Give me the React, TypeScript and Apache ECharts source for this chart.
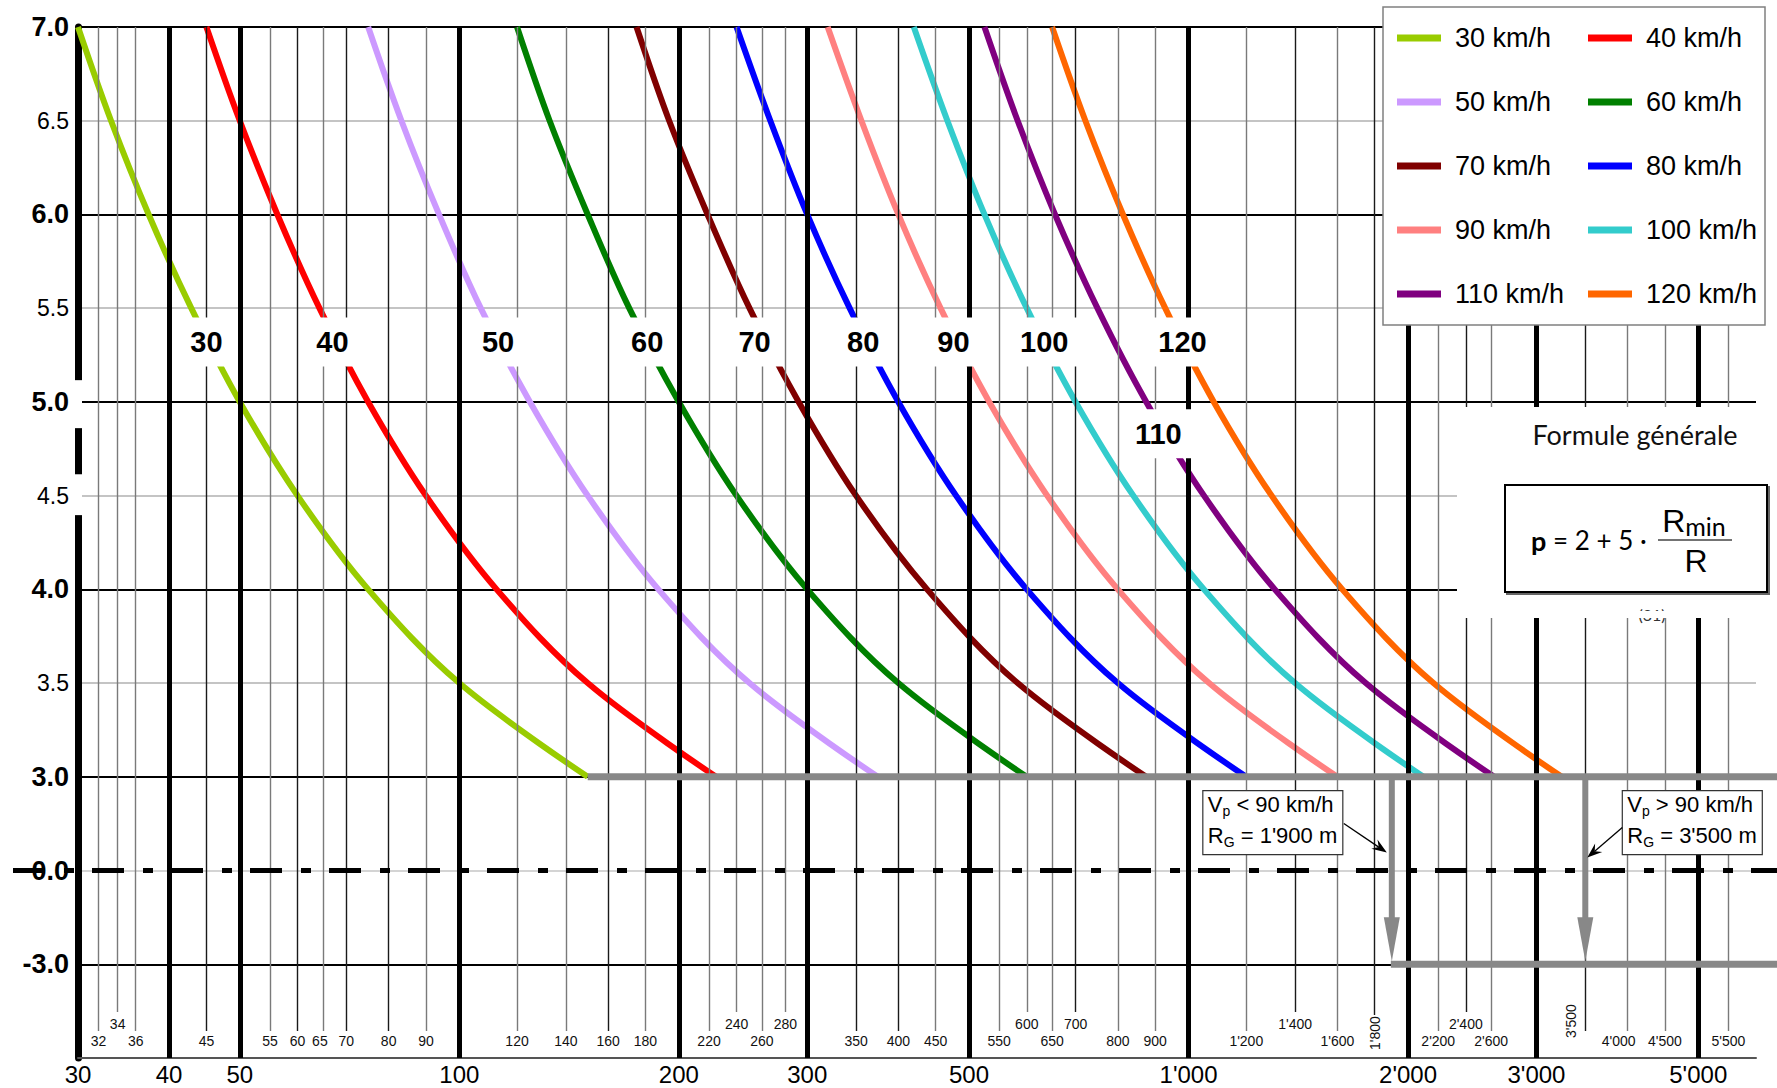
import React, { useEffect, useRef } from "react";
import * as echarts from "echarts";

const FONT = "'Liberation Sans', Arial, sans-serif";
const CAL = "Lato, 'Open Sans', sans-serif";
const GREY = "#888888";

// ---- series (design speeds) ----
const speeds = ["30 km/h", "40 km/h", "50 km/h", "60 km/h", "70 km/h", "80 km/h", "90 km/h", "100 km/h", "110 km/h", "120 km/h"];
const speedColors = ["#99cc00", "#ff0000", "#cc99ff", "#008000", "#800000", "#0000ff", "#ff8080", "#33cccc", "#800080", "#ff6600"];
const legendLeftCol = ["30 km/h", "50 km/h", "70 km/h", "90 km/h", "110 km/h"];
const legendRightCol = ["40 km/h", "60 km/h", "80 km/h", "100 km/h", "120 km/h"];

const pLevels = [7, 6.5, 6, 5.5, 5, 4.5, 4, 3.5, 3];
// radius R [m] read at those levels
const r30 = [30, 33.3, 37.5, 42.9, 50, 60, 75, 100, 150];
const r40 = [45, 50, 56.3, 64.3, 75, 90, 112.5, 150, 225];
const r50 = [75, 83.3, 93.8, 107, 125, 150, 187.5, 250, 375];
const r60 = [120, 133, 150, 171, 200, 240, 300, 400, 600];
const r70 = [175, 194, 219, 250, 292, 350, 438, 583, 875];
const r80 = [240, 267, 300, 343, 400, 480, 600, 800, 1200];
const r90 = [320, 356, 400, 457, 533, 640, 800, 1067, 1600];
const r100 = [420, 467, 525, 600, 700, 840, 1050, 1400, 2100];
const r110 = [525, 583, 656, 750, 875, 1050, 1313, 1750, 2625];
const r120 = [650, 722, 813, 929, 1083, 1300, 1625, 2167, 3250];
const curveRadii = [r30, r40, r50, r60, r70, r80, r90, r100, r110, r120];

// labels sitting on the curves
const curveLabelText = ["30", "40", "50", "60", "70", "80", "90", "100", "110", "120"];
const curveLabelR = [45, 67, 113, 181, 254, 358, 476, 634, 909, 981];
const curveLabelP = [5.32, 5.32, 5.32, 5.32, 5.32, 5.32, 5.32, 5.32, 4.83, 5.32];

// x axis (radius, log)
const xMin = 30;
const xMax = 6000;
const majorR = [30, 40, 50, 100, 200, 300, 500, 1000, 2000, 3000, 5000];
const minorLowR = [32, 36, 45, 55, 60, 65, 70, 80, 90, 120, 140, 160, 180, 220, 260, 350, 400, 450, 550, 650, 800, 900, 1200, 1600, 2200, 2600, 4000, 4500, 5500];
const minorHighR = [34, 240, 280, 600, 700, 1400, 2400];
const minorRotR = [1800, 3500];
const darkMinorR = [45, 60, 70, 80, 160, 350, 400, 700, 1400, 1800, 2400, 3500];

// y axis (piecewise: 3..7 linear, below 3 compressed)
const yAxisMin = 1.5;
const yAxisMax = 7;
const yTickText: Record<string, string> = {
  "7": "7.0", "6.5": "6.5", "6": "6.0", "5.5": "5.5", "5": "5.0", "4.5": "4.5",
  "4": "4.0", "3.5": "3.5", "3": "3.0", "2.5": "0.0", "2": "-3.0",
};
const yBoldTicks = ["7", "6", "5", "4", "3", "2.5", "2"];
const yZero = 2.5; // "0.0"
const yMinus3 = 2.0; // "-3.0"
const yMinorLabelLow = 1.591;
const yMinorLabelHigh = 1.681;
const yLineEndLow = 1.644;
const yLineEndHigh = 1.745;

// limit radii
const rGreyStart = 150;
const rG1 = 1900;
const rG2 = 3500;

const fmt = (r: number) => (r >= 1000 ? `${Math.floor(r / 1000)}'${String(r % 1000).padStart(3, "0")}` : String(r));

function buildOption() {
  const vLines: any[] = [];
  majorR.slice(1).forEach((r) =>
    vLines.push([{ coord: [r, yAxisMax], lineStyle: { color: "#000", width: 5, type: "solid" } }, { coord: [r, yAxisMin] }])
  );
  const thin = (r: number, end: number) => [
    { coord: [r, yAxisMax], lineStyle: { color: darkMinorR.includes(r) ? "#1a1a1a" : "#7a7a7a", width: 1.4, type: "solid" } },
    { coord: [r, end] },
  ];
  minorLowR.forEach((r) => vLines.push(thin(r, yLineEndLow)));
  minorHighR.forEach((r) => vLines.push(thin(r, yLineEndHigh)));
  vLines.push(thin(1800, 1.73));
  vLines.push(thin(3500, yLineEndLow));

  const curveSeries = speeds.map((name, i) => ({
    type: "line",
    name,
    data: curveRadii[i].map((r, j) => [r, pLevels[j]]),
    smooth: 0.35,
    showSymbol: false,
    symbol: "none",
    silent: true,
    color: speedColors[i],
    itemStyle: { color: speedColors[i] },
    lineStyle: { color: speedColors[i], width: 6 },
    z: 3,
  }));

  const splitColors = ["#555", "#000", "#d4d4d4", "#000", "#c4c4c4", "#000", "#c4c4c4", "#000", "#c4c4c4", "#000", "#c4c4c4", "#000"];

  const legendCommon = {
    orient: "vertical",
    top: 23,
    padding: 0,
    itemWidth: 44,
    itemHeight: 7,
    itemGap: 34,
    icon: "rect",
    selectedMode: false,
    z: 30,
    textStyle: { fontSize: 27, color: "#000", fontFamily: FONT, lineHeight: 30, padding: [0, 0, 0, 9] },
  };

  const hiddenSym = { color: "rgba(0,0,0,0)", opacity: 1 };

  return {
    animation: false,
    textStyle: { fontFamily: FONT },
    grid: { left: 78, right: 21, top: 27, bottom: 30, containLabel: false },
    legend: [
      { ...legendCommon, left: 1397, data: legendLeftCol },
      { ...legendCommon, left: 1588, data: legendRightCol },
    ],
    xAxis: {
      type: "log",
      logBase: 10,
      min: xMin,
      max: xMax,
      axisLine: { show: true, onZero: false, lineStyle: { color: "#555", width: 2 } },
      axisTick: { show: false },
      axisLabel: { show: false },
      splitLine: { show: false },
      minorSplitLine: { show: false },
    },
    yAxis: {
      type: "value",
      min: yAxisMin,
      max: yAxisMax,
      interval: 0.5,
      axisLine: { show: true, onZero: false, lineStyle: { color: "#000", width: 7 } },
      axisTick: { show: false },
      splitLine: { show: true, lineStyle: { color: splitColors, width: 2 } },
      axisLabel: {
        margin: 9,
        formatter: (v: number) => {
          const key = String(v);
          const t = yTickText[key];
          if (!t) return "";
          return yBoldTicks.includes(key) ? `{b|${t}}` : `{n|${t}}`;
        },
        rich: {
          b: { fontSize: 27, fontWeight: "bold", fontFamily: FONT, color: "#000" },
          n: { fontSize: 23, fontFamily: FONT, color: "#000" },
        },
      },
    },
    series: [
      {
        type: "line",
        name: "_grid",
        data: [],
        silent: true,
        z: 1,
        markLine: {
          silent: true,
          animation: false,
          symbol: ["none", "none"],
          label: { show: false },
          lineStyle: { type: "solid" },
          emphasis: { disabled: true },
          data: vLines,
        },
      },
      ...curveSeries,
      {
        type: "scatter",
        name: "_curveLabels",
        silent: true,
        symbolSize: 1,
        itemStyle: hiddenSym,
        z: 8,
        data: curveLabelText.map((t, i) => ({ name: t, value: [curveLabelR[i], curveLabelP[i]] })),
        label: {
          show: true,
          position: "inside",
          formatter: "{b}",
          fontSize: 29,
          fontWeight: "bold",
          fontFamily: FONT,
          color: "#000",
          opacity: 1,
          backgroundColor: "#fff",
          padding: [10, 13],
        },
      },
      {
        type: "scatter",
        name: "_xMajor",
        silent: true,
        symbolSize: 1,
        clip: false,
        itemStyle: hiddenSym,
        z: 8,
        data: majorR.map((r) => ({ name: fmt(r), value: [r, yAxisMin] })),
        label: { show: true, position: "bottom", distance: 4, formatter: "{b}", fontSize: 24, lineHeight: 24, fontFamily: FONT, color: "#000", opacity: 1 },
      },
      {
        type: "scatter",
        name: "_xMinor",
        silent: true,
        symbolSize: 1,
        itemStyle: hiddenSym,
        z: 8,
        data: [
          ...minorLowR.map((r) => ({ name: fmt(r), value: [r, yMinorLabelLow], label: r === 4000 ? { offset: [-9, 0] } : r === 65 ? { offset: [-3, 0] } : undefined })),
          ...minorHighR.map((r) => ({ name: fmt(r), value: [r, yMinorLabelHigh] })),
          { name: fmt(minorRotR[0]), value: [minorRotR[0], 1.633], label: { rotate: 90 } },
          { name: fmt(minorRotR[1]), value: [minorRotR[1], 1.697], label: { rotate: 90, offset: [0, -14] } },
        ],
        label: { show: true, position: "inside", formatter: "{b}", fontSize: 14, fontFamily: FONT, color: "#111", opacity: 1 },
      },
    ],
  };
}

function buildGraphic(chart: any) {
  const P = (r: number, y: number) => chart.convertToPixel({ xAxisIndex: 0, yAxisIndex: 0 }, [r, y]) as number[];
  const W = chart.getWidth();
  const axX = P(xMin, yAxisMax)[0];
  const y3 = P(xMin, 3)[1];
  const y0 = P(xMin, yZero)[1];
  const ym3 = P(xMin, yMinus3)[1];
  const xs = P(rGreyStart, 3)[0];
  const g1 = P(rG1, 3)[0];
  const g2 = P(rG2, 3)[0];

  const els: any[] = [];
  // dash-dot zero line
  els.push({ type: "line", shape: { x1: axX - 65, y1: y0, x2: W, y2: y0 }, style: { stroke: "#000", lineWidth: 5, lineDash: [32, 19, 10, 18] }, z: 15 });
  // grey limit lines
  els.push({ type: "line", shape: { x1: xs, y1: y3, x2: W, y2: y3 }, style: { stroke: GREY, lineWidth: 7 }, z: 16 });
  els.push({ type: "line", shape: { x1: g1 - 1, y1: ym3, x2: W, y2: ym3 }, style: { stroke: GREY, lineWidth: 7 }, z: 16 });
  [g1, g2].forEach((x) => {
    els.push({ type: "line", shape: { x1: x, y1: y3, x2: x, y2: ym3 - 44 }, style: { stroke: GREY, lineWidth: 6 }, z: 16 });
    els.push({ type: "polygon", shape: { points: [[x - 8, ym3 - 47], [x + 8, ym3 - 47], [x, ym3 - 3]] }, style: { fill: GREY }, z: 16 });
  });

  // gaps in left axis behind 5.0 / 4.5 labels
  const gap = (p1: number, p2: number) => {
    const a = P(xMin, p1)[1];
    const b = P(xMin, p2)[1];
    return { type: "rect", shape: { x: axX - 9, y: a, width: 13, height: b - a }, style: { fill: "#fff" }, z: 14 };
  };
  els.push(gap(5.116, 4.86));
  els.push(gap(4.614, 4.396));

  // annotation boxes
  const rich = {
    n: { fontSize: 22, fontFamily: FONT, color: "#000", lineHeight: 26 },
    s: { fontSize: 14, fontFamily: FONT, color: "#000", lineHeight: 14, verticalAlign: "bottom" },
  };
  const box = (bx: number, l1: string, l2: string) => {
    els.push({ type: "rect", shape: { x: bx, y: y0 - 80, width: 140, height: 64 }, style: { fill: "#fff", stroke: "#333", lineWidth: 1.2 }, z: 17 });
    els.push({ type: "text", x: bx + 5, y: y0 - 66, style: { text: l1, rich, verticalAlign: "middle", align: "left" }, z: 18 });
    els.push({ type: "text", x: bx + 5, y: y0 - 35, style: { text: l2, rich, verticalAlign: "middle", align: "left" }, z: 18 });
  };
  box(g1 - 189, "{n|V}{s|p}{n| < 90 km/h}", "{n|R}{s|G}{n| = 1'900 m}");
  box(g2 + 37, "{n|V}{s|p}{n| > 90 km/h}", "{n|R}{s|G}{n| = 3'500 m}");

  const pointer = (x1: number, y1: number, x2: number, y2: number) => {
    const a = Math.atan2(y2 - y1, x2 - x1);
    const L = 15;
    const Wd = 5.5;
    const c = Math.cos(a);
    const s = Math.sin(a);
    const bx = x2 - L * c;
    const by = y2 - L * s;
    const nx = x2 - L * 0.65 * c;
    const ny = y2 - L * 0.65 * s;
    els.push({ type: "line", shape: { x1, y1, x2: nx, y2: ny }, style: { stroke: "#000", lineWidth: 1.3 }, z: 18 });
    els.push({
      type: "polygon",
      shape: { points: [[x2, y2], [bx - s * Wd, by + c * Wd], [nx, ny], [bx + s * Wd, by - c * Wd]] },
      style: { fill: "#000" },
      z: 18,
    });
  };
  pointer(g1 - 48, y0 - 47, g1 - 5, y0 - 18);
  pointer(g2 + 37, y0 - 43, g2 + 2, y0 - 13);

  // legend box
  els.push({ type: "rect", shape: { x: 1383, y: 7, width: 382, height: 318 }, style: { fill: "#fff", stroke: "#808080", lineWidth: 1.5 }, z: 20 });

  // formula area
  els.push({ type: "rect", shape: { x: 1457, y: 407, width: W - 1457, height: 211 }, style: { fill: "#fff" }, z: 20 });
  els.push({ type: "text", x: 1652, y: 606, style: { text: "(31)", fontSize: 16, fontFamily: CAL, fill: "#333", align: "center", verticalAlign: "top" }, z: 21 });
  els.push({ type: "rect", shape: { x: 1457, y: 611, width: W - 1457, height: 7 }, style: { fill: "#fff" }, z: 22 });
  els.push({ type: "text", x: 1635, y: 434, style: { text: "Formule générale", fontSize: 27, fontFamily: CAL, fill: "#111", align: "center", verticalAlign: "middle" }, z: 22 });
  els.push({
    type: "rect",
    shape: { x: 1505, y: 485, width: 262, height: 107 },
    style: { fill: "#fff", stroke: "#000", lineWidth: 2, shadowColor: "rgba(0,0,0,0.6)", shadowOffsetX: 2, shadowOffsetY: 2, shadowBlur: 0 },
    z: 22,
  });
  els.push({
    type: "text",
    x: 1531,
    y: 540,
    style: {
      text: "{b|p}{n| = 2 + 5 · }",
      rich: {
        b: { fontSize: 27, fontWeight: "bold", fontFamily: CAL, color: "#000" },
        n: { fontSize: 26, fontFamily: CAL, color: "#000" },
      },
      align: "left",
      verticalAlign: "middle",
    },
    z: 23,
  });
  els.push({
    type: "text",
    x: 1694,
    y: 521,
    style: {
      text: "{r|R}{s|min}",
      rich: {
        r: { fontSize: 32, fontFamily: FONT, color: "#000", lineHeight: 34 },
        s: { fontSize: 25, fontFamily: CAL, color: "#000", lineHeight: 22, verticalAlign: "bottom" },
      },
      align: "center",
      verticalAlign: "middle",
    },
    z: 23,
  });
  els.push({ type: "line", shape: { x1: 1658, y1: 540, x2: 1732, y2: 540 }, style: { stroke: "#444", lineWidth: 1.6 }, z: 23 });
  els.push({ type: "text", x: 1696, y: 561, style: { text: "R", fontSize: 32, fontFamily: FONT, fill: "#000", align: "center", verticalAlign: "middle" }, z: 23 });

  return els;
}

export default function App() {
  const ref = useRef<HTMLDivElement>(null);
  useEffect(() => {
    document.body.style.margin = "0";
    const chart = echarts.init(ref.current!, null, { renderer: "svg" });
    chart.setOption(buildOption() as any);
    chart.setOption({ graphic: buildGraphic(chart) } as any);
    return () => chart.dispose();
  }, []);
  return <div ref={ref} style={{ position: "absolute", left: 0, top: 0, width: 1777, height: 1088, background: "#fff" }} />;
}
